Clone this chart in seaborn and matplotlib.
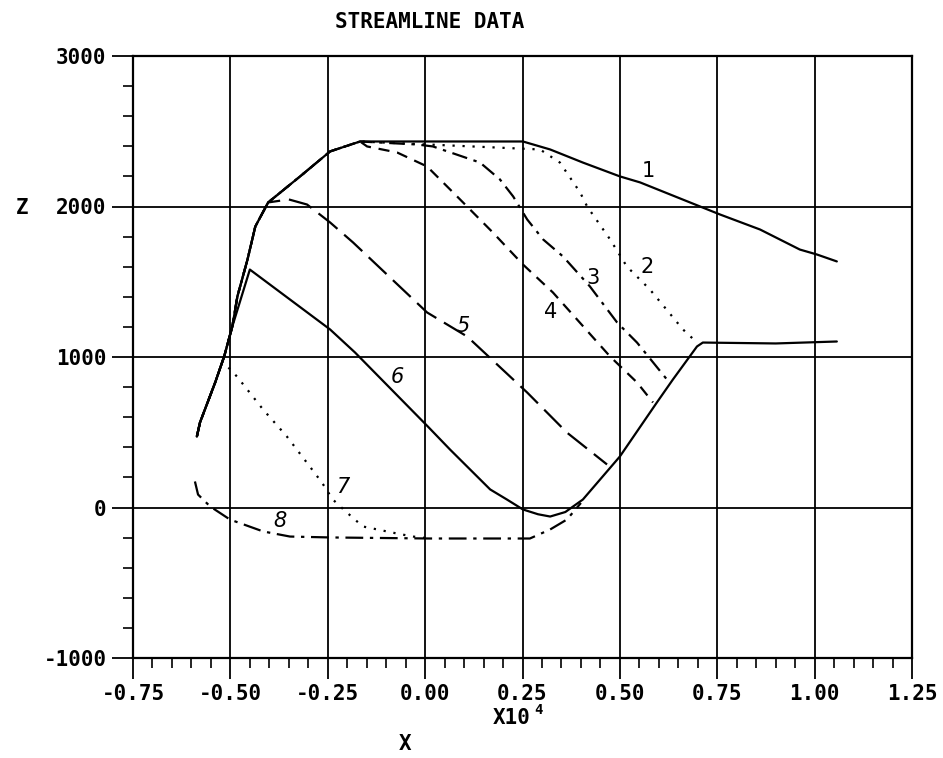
import numpy as np
import pandas as pd
import seaborn as sns
import matplotlib.pyplot as plt
from matplotlib.ticker import MultipleLocator, FormatStrFormatter

# rising part shared by the upper streamlines (x in units of 10^4)
rise_x = [-0.586, -0.578, -0.539, -0.516, -0.495, -0.482, -0.456, -0.436, -0.403, -0.321, -0.244, -0.167]
rise_y = [472, 565, 831, 1003, 1203, 1402, 1648, 1867, 2027, 2200, 2366, 2432]

# streamline 1 after the rise
s1_x = [0.251, 0.321, 0.405, 0.500, 0.552, 0.680, 0.757, 0.860, 0.962, 1.006, 1.057]
s1_y = [2432, 2379, 2292, 2200, 2160, 2027, 1947, 1847, 1714, 1681, 1635]

s2_x = [0.295, 0.346, 0.398, 0.416, 0.475, 0.518, 0.577, 0.662, 0.698]
s2_y = [2379, 2292, 2093, 2000, 1781, 1601, 1449, 1183, 1096]

s3_x = [-0.021, 0.020, 0.141, 0.192, 0.226, 0.262, 0.303, 0.354, 0.423, 0.493, 0.544, 0.621]
s3_y = [2412, 2399, 2292, 2180, 2067, 1914, 1781, 1668, 1469, 1229, 1096, 850]

s4_x = [-0.149, -0.072, 0.005, 0.082, 0.174, 0.251, 0.328, 0.475, 0.544, 0.585]
s4_y = [2399, 2359, 2266, 2067, 1827, 1615, 1429, 1003, 831, 698]

s5_x = [-0.350, -0.303, -0.244, -0.185, 0.005, 0.108, 0.262, 0.364, 0.467]
s5_y = [2047, 2013, 1894, 1761, 1296, 1136, 764, 498, 286]

s6_x = [-0.450, -0.244, -0.180, 0.007, 0.064, 0.167, 0.210, 0.251, 0.290, 0.321, 0.360, 0.405,
        0.500, 0.595, 0.636, 0.698, 0.713, 0.900, 1.057]
s6_y = [1581, 1183, 1030, 538, 385, 120, 53, -13, -45, -60, -30, 53,
        339, 698, 850, 1070, 1096, 1090, 1103]

s7_x = [-0.505, -0.483, -0.416, -0.355, -0.296, -0.265, -0.237, -0.201, -0.160, -0.072, -0.031, 0.013]
s7_y = [930, 870, 651, 472, 272, 166, 53, -33, -126, -173, -193, -206]

s8_x = [-0.591, -0.583, -0.552, -0.501, -0.416, -0.347, -0.244, 0.013, 0.269, 0.321, 0.364, 0.400]
s8_y = [173, 86, 7, -80, -159, -193, -199, -206, -206, -146, -80, 30]

label_text = ["1", "2", "3", "4", "5", "6", "7", "8"]
label_x = [0.572, 0.570, 0.431, 0.321, 0.097, -0.072, -0.211, -0.373]
label_y = [2233, 1601, 1528, 1296, 1203, 864, 133, -93]

# build each streamline
def with_rise(n, xs, ys):
    return rise_x[:n] + xs, rise_y[:n] + ys

curves = [
    (rise_x + s1_x, rise_y + s1_y, '-'),
    (rise_x + s2_x, rise_y + s2_y, (0, (1, 3.5))),
    (*with_rise(12, s3_x, s3_y), (0, (7, 3, 1.5, 3))),
    (*with_rise(12, s4_x, s4_y), (0, (5, 3.5))),
    (*with_rise(9, s5_x, s5_y), (0, (11, 4))),
    (*with_rise(5, s6_x, s6_y), '-'),
    (s7_x, s7_y, (0, (1, 3.5))),
    (s8_x, s8_y, (0, (8, 3, 1.5, 3))),
]

sns.set_style("ticks")
plt.rcParams['font.family'] = ['DejaVu Sans Mono', 'DejaVu Sans']
plt.rcParams['text.color'] = 'black'
plt.rcParams['xtick.color'] = 'black'
plt.rcParams['ytick.color'] = 'black'

fig = plt.figure(figsize=(9.43, 7.58), dpi=100)
ax = fig.add_axes([133 / 943, 1 - 658 / 758, (912 - 133) / 943, (658 - 56) / 758])

for xs, ys, ls in curves:
    df = pd.DataFrame({"x": xs, "y": ys})
    sns.lineplot(data=df, x="x", y="y", sort=False, estimator=None, color="black",
                 linewidth=1.6, linestyle=ls, ax=ax)

for t, lx, ly in zip(label_text, label_x, label_y):
    ax.text(lx, ly, t, ha="center", va="center", fontsize=15, family="DejaVu Sans",
            color="black", style="italic" if t in "5678" else "normal")

ax.set_xlim(-0.75, 1.25)
ax.set_ylim(-1000, 3000)
ax.xaxis.set_major_locator(MultipleLocator(0.25))
ax.xaxis.set_minor_locator(MultipleLocator(0.05))
ax.yaxis.set_major_locator(MultipleLocator(1000))
ax.yaxis.set_minor_locator(MultipleLocator(200))
ax.xaxis.set_major_formatter(FormatStrFormatter('%.2f'))
ax.yaxis.set_major_formatter(FormatStrFormatter('%d'))
ax.grid(True, which="major", color="black", linewidth=1.3)
ax.tick_params(which="major", direction="out", length=15, width=1.3, colors="black",
               labelsize=15, pad=4)
ax.tick_params(which="minor", direction="out", length=7, width=1.2, colors="black")
for lab in ax.get_xticklabels() + ax.get_yticklabels():
    lab.set_fontweight("bold")
for sp in ax.spines.values():
    sp.set_color("black")
    sp.set_linewidth(1.6)
ax.set_xlabel("")
ax.set_ylabel("")

fig.text(430 / 943, 1 - 22 / 758, "STREAMLINE DATA", ha="center", va="center",
         fontsize=15, fontweight="bold")
fig.text(22 / 943, 1 - 208 / 758, "Z", ha="center", va="center", fontsize=15, fontweight="bold")
fig.text(512 / 943, 1 - 718 / 758, "X10", ha="center", va="center", fontsize=15, fontweight="bold")
fig.text(534 / 943, 1 - 710 / 758, "4", ha="left", va="center", fontsize=10, fontweight="bold")
fig.text(405 / 943, 1 - 744 / 758, "X", ha="center", va="center", fontsize=15, fontweight="bold")

fig.savefig("out.png", dpi=100)
